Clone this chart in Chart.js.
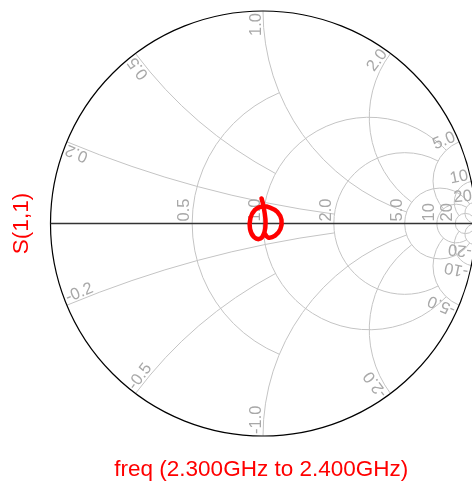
<!DOCTYPE html>
<html>
<head>
<meta charset="utf-8">
<script src="https://cdn.jsdelivr.net/npm/chart.js@4.4.1/dist/chart.umd.min.js"></script>
<style>
  html, body { margin: 0; padding: 0; background: #fff; }
</style>
</head>
<body>
<canvas id="smith" width="472" height="484"></canvas>
<script>
// S(1,1) trace as reflection coefficient
const gammaRe = [-0.007, 0.000, 0.007, 0.012, 0.007, -0.012, -0.042, -0.061, -0.059, -0.038, -0.005, 0.033, 0.068, 0.087, 0.082, 0.057, 0.024, 0.007];
const gammaIm = [0.118, 0.092, 0.054, 0.007, -0.040, -0.071, -0.064, -0.026, 0.026, 0.064, 0.080, 0.075, 0.054, 0.017, -0.026, -0.057, -0.066, -0.045];

// grid: constant resistance circles, and how far (|x|) each one runs
const rCircles = [0.5, 1, 2, 5, 10, 20];
const rLimits = [1, 5, 5, 20, 20, Infinity];
const rLabels = ['0.5', '1.0', '2.0', '5.0', '10', '20'];

// constant reactance arcs, and how far (r) each one runs
const xArcs = [0.2, 0.5, 1, 2, 5, 10, 20];
const xLimits = [2, 1, 5, 5, 10, 20, Infinity];
const xLabels = ['0.2', '0.5', '1.0', '2.0', '5.0', '10', '20'];

const xMax = 0.9835; // right side of the chart is cut by the window

const points = gammaRe.map((v, i) => ({x: v, y: gammaIm[i]}));

function gamma(r, x) {
  const d = (r + 1) * (r + 1) + x * x;
  return [(r * r + x * x - 1) / d, 2 * x / d];
}

const smithGrid = {
  id: 'smithGrid',
  beforeDatasetsDraw(chart) {
    const ctx = chart.ctx;
    const sx = chart.scales.x, sy = chart.scales.y;
    const px = v => sx.getPixelForValue(v);
    const py = v => sy.getPixelForValue(v);
    const unit = px(1) - px(0);
    ctx.save();

    ctx.strokeStyle = '#c4c4c4';
    ctx.lineWidth = 1;
    rCircles.forEach((r, i) => {
      const cx = px(r / (1 + r)), cy = py(0), rad = unit / (1 + r);
      ctx.beginPath();
      if (rLimits[i] === Infinity) {
        ctx.arc(cx, cy, rad, 0, 2 * Math.PI);
      } else {
        const g = gamma(r, rLimits[i]);
        const a = Math.atan2(py(g[1]) - cy, px(g[0]) - cx);
        ctx.arc(cx, cy, rad, -a, 2 * Math.PI + a);
      }
      ctx.stroke();
    });

    const norm = a => {
      while (a < Math.PI / 2 - 1e-9) a += 2 * Math.PI;
      while (a > 3 * Math.PI / 2 + 1e-9) a -= 2 * Math.PI;
      return a;
    };
    xArcs.forEach((xv, i) => {
      [xv, -xv].forEach(x => {
        const cx = px(1), cy = py(1 / x), rad = unit / Math.abs(x);
        const g0 = gamma(0, x);
        const g1 = xLimits[i] === Infinity ? [1, 0] : gamma(xLimits[i], x);
        const a0 = norm(Math.atan2(py(g0[1]) - cy, px(g0[0]) - cx));
        const a1 = norm(Math.atan2(py(g1[1]) - cy, px(g1[0]) - cx));
        ctx.beginPath();
        ctx.arc(cx, cy, rad, a0, a1, x > 0);
        ctx.stroke();
      });
    });

    // outer circle and real axis
    ctx.strokeStyle = '#000';
    ctx.lineWidth = 1.2;
    ctx.beginPath();
    ctx.arc(px(0), py(0), unit, 0, 2 * Math.PI);
    ctx.stroke();
    ctx.strokeStyle = '#333';
    ctx.lineWidth = 1.5;
    ctx.beginPath();
    ctx.moveTo(px(-1), py(0));
    ctx.lineTo(px(1), py(0));
    ctx.stroke();

    // labels
    ctx.fillStyle = '#a8a8a8';
    ctx.font = '16.5px "Liberation Sans", Arial, sans-serif';
    ctx.textBaseline = 'alphabetic';
    rCircles.forEach((r, i) => {
      const g = gamma(r, 0);
      ctx.save();
      ctx.translate(px(g[0]), py(0));
      ctx.rotate(-Math.PI / 2);
      ctx.textAlign = 'left';
      ctx.fillText(rLabels[i], 2, -3);
      ctx.restore();
    });
    xArcs.forEach((xv, i) => {
      [xv, -xv].forEach(x => {
        const cx = px(1), cy = py(1 / x);
        const g0 = gamma(0, x);
        const x0 = px(g0[0]), y0 = py(g0[1]);
        const a0 = Math.atan2(y0 - cy, x0 - cx);
        ctx.save();
        ctx.translate(x0, y0);
        ctx.rotate(a0 + Math.PI / 2);
        if (x > 0) {
          ctx.textAlign = 'right';
          ctx.fillText(xLabels[i], -2, -2);
        } else {
          ctx.textAlign = 'left';
          ctx.fillText('-' + xLabels[i], 2, -2);
        }
        ctx.restore();
      });
    });
    ctx.restore();
  }
};

const titleFont = {family: '"Liberation Sans", Arial, sans-serif', size: 22.5};

new Chart(document.getElementById('smith'), {
  type: 'scatter',
  data: {
    datasets: [{
      label: 'S(1,1)',
      data: points,
      showLine: true,
      borderColor: '#ff0000',
      borderWidth: 4.5,
      borderCapStyle: 'round',
      borderJoinStyle: 'round',
      pointRadius: 0,
      tension: 0.4,
      fill: false
    }]
  },
  options: {
    responsive: false,
    animation: false,
    devicePixelRatio: 1,
    layout: {padding: {top: 11, left: 0, right: 0, bottom: 0}},
    plugins: {legend: {display: false}, tooltip: {enabled: false}},
    scales: {
      x: {
        type: 'linear', min: -1, max: xMax,
        ticks: {display: false}, grid: {display: false}, border: {display: false},
        title: {display: true, text: 'freq (2.300GHz to 2.400GHz)', color: '#ff0000', font: titleFont, padding: {top: 0, bottom: 1}},
        afterFit: s => { s.height = 48; }
      },
      y: {
        type: 'linear', min: -1, max: 1,
        ticks: {display: false}, grid: {display: false}, border: {display: false},
        title: {display: true, text: 'S(1,1)', color: '#ff0000', font: titleFont, padding: {top: 8, bottom: 0}},
        afterFit: s => { s.width = 50.5; }
      }
    }
  },
  plugins: [smithGrid]
});
</script>
</body>
</html>
